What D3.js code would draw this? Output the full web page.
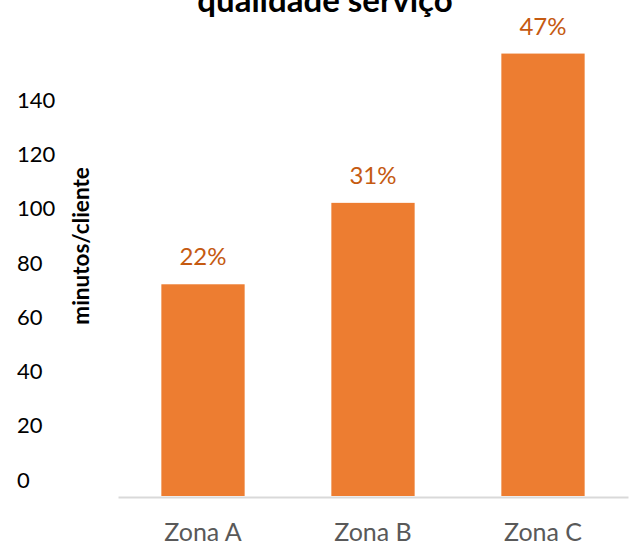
<!DOCTYPE html>
<html>
<head>
<meta charset="utf-8">
<script src="https://cdn.jsdelivr.net/npm/d3@7"></script>
<style>
  body { margin: 0; background: #fff; }
  svg { display: block; font-family: Lato, "Open Sans", sans-serif; }
</style>
</head>
<body>
<svg id="chart" width="635" height="545"></svg>
<script>
const title = "qualidade serviço";
const yTitle = "minutos/cliente";
const zones = ["Zona A", "Zona B", "Zona C"];
const minutes = [78, 108, 163];
const shares = ["22%", "31%", "47%"];
const yTicks = [0, 20, 40, 60, 80, 100, 120, 140];

const svg = d3.select("#chart");
const baseY = 496;

const x = d3.scaleBand()
  .domain(zones)
  .range([118, 628])
  .paddingInner(0.51)
  .paddingOuter(0.255);

const y = d3.scaleLinear()
  .domain([0, 140])
  .range([baseY, baseY - 380]);

// title (cut off by the top edge, like the reference)
svg.append("text")
  .attr("x", 325)
  .attr("y", 12)
  .attr("text-anchor", "middle")
  .attr("font-size", 33)
  .attr("font-weight", "bold")
  .attr("fill", "#000")
  .text(title);

// y tick labels, left aligned and sitting a little above their values
const yAxis = svg.append("g")
  .call(d3.axisLeft(y).tickValues(yTicks).tickSize(0).tickPadding(0));
yAxis.select(".domain").remove();
yAxis.selectAll("text")
  .attr("x", 17)
  .attr("dy", "-0.4em")
  .attr("text-anchor", "start")
  .attr("font-family", "Lato, sans-serif")
  .attr("font-size", 22)
  .attr("fill", "#000");

svg.append("text")
  .attr("transform", "translate(89,246) rotate(-90)")
  .attr("text-anchor", "middle")
  .attr("font-size", 22.5)
  .attr("font-weight", "bold")
  .attr("fill", "#000")
  .text(yTitle);

svg.selectAll(".bar")
  .data(zones)
  .enter().append("rect")
  .attr("class", "bar")
  .attr("x", d => x(d))
  .attr("width", x.bandwidth())
  .attr("y", (d, i) => y(minutes[i]))
  .attr("height", (d, i) => baseY - y(minutes[i]))
  .attr("fill", "#ED7D31");

svg.selectAll(".share")
  .data(zones)
  .enter().append("text")
  .attr("class", "share")
  .attr("x", d => x(d) + x.bandwidth() / 2)
  .attr("y", (d, i) => y(minutes[i]) - 19)
  .attr("text-anchor", "middle")
  .attr("font-size", 24)
  .attr("fill", "#C55A11")
  .text((d, i) => shares[i]);

// category axis
const xAxis = svg.append("g")
  .attr("transform", `translate(0,${baseY + 1})`)
  .call(d3.axisBottom(x).tickSize(0).tickPadding(0));
xAxis.select(".domain")
  .attr("stroke", "#D9D9D9")
  .attr("stroke-width", 2);
xAxis.selectAll("text")
  .attr("dy", 0)
  .attr("y", 44)
  .attr("font-family", "Lato, sans-serif")
  .attr("font-size", 25)
  .attr("fill", "#595959");
</script>
</body>
</html>
